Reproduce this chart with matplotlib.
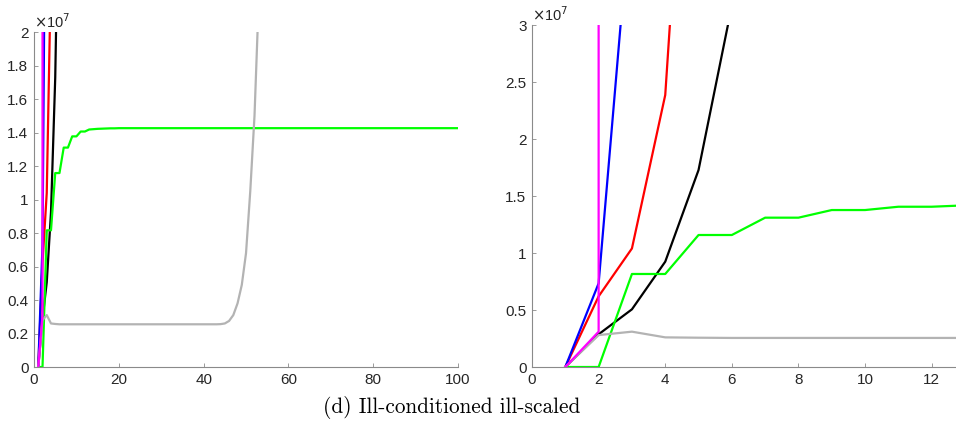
import matplotlib
matplotlib.use("Agg")
import matplotlib.pyplot as plt
from matplotlib.ticker import FuncFormatter
import numpy as np

# iteration counts (x) and objective values (y) for each solver
it_magenta = [1, 2, 2]
val_magenta = [0, 0.31e7, 1e9]

it_blue = [1, 2, 3]
val_blue = [0, 0.734e7, 4.17e7]

it_red = [1, 2, 3, 4, 5]
val_red = [0, 0.62e7, 1.04e7, 2.386e7, 6.8e7]

it_black = [1, 2, 3, 4, 5, 6]
val_black = [0, 0.287e7, 0.506e7, 0.924e7, 1.728e7, 3.17e7]

val_green = ([0, 0, 0.816e7, 0.816e7, 1.158e7, 1.158e7, 1.31e7, 1.31e7,
              1.377e7, 1.377e7, 1.406e7, 1.406e7, 1.418e7, 1.42e7, 1.422e7,
              1.423e7, 1.424e7, 1.425e7, 1.425e7, 1.426e7]
             + [1.426e7] * 80)
it_green = list(range(1, len(val_green) + 1))

val_gray = ([0, 0.28e7, 0.31e7, 0.26e7, 0.257e7]
            + [0.255e7] * 38
            + [0.256e7, 0.26e7, 0.275e7, 0.31e7, 0.38e7, 0.49e7, 0.68e7,
               1.05e7, 1.5e7, 2.2e7])
it_gray = list(range(1, len(val_gray) + 1))

left_xticks = [0, 20, 40, 60, 80, 100]
left_yticks = [0, 0.2e7, 0.4e7, 0.6e7, 0.8e7, 1e7, 1.2e7, 1.4e7, 1.6e7, 1.8e7, 2e7]
right_xticks = [0, 2, 4, 6, 8, 10, 12]
right_yticks = [0, 0.5e7, 1e7, 1.5e7, 2e7, 2.5e7, 3e7]

plt.rcParams['font.family'] = ['Liberation Sans', 'DejaVu Sans']

series = [
    (it_black, val_black, 'black'),
    (it_red, val_red, '#ff0000'),
    (it_blue, val_blue, '#0000ff'),
    (it_green, val_green, '#00ff00'),
    (it_gray, val_gray, '#b3b3b3'),
    (it_magenta, val_magenta, '#ff00ff'),
]

fig = plt.figure(figsize=(9.56, 4.30), dpi=100)
ax1 = fig.add_axes([0.0356, 0.1465, 0.4435, 0.779])
ax2 = fig.add_axes([0.5565, 0.1465, 0.4435, 0.7953])

fmt = FuncFormatter(lambda v, p: '%g' % (v / 1e7))

def style(ax, xlim, ylim, xt, yt):
    for x, y, c in series:
        ax.plot(x, y, color=c, linewidth=1.6)
    ax.set_xlim(*xlim)
    ax.set_ylim(*ylim)
    ax.set_xticks(xt)
    ax.set_yticks(yt)
    ax.yaxis.set_major_formatter(fmt)
    for s in ['top', 'right']:
        ax.spines[s].set_visible(False)
    for s in ['left', 'bottom']:
        ax.spines[s].set_color('#8a8a8a')
        ax.spines[s].set_linewidth(0.8)
    ax.tick_params(direction='in', length=3, width=0.6, color='#8a8a8a',
                   labelsize=11, labelcolor='#262626', pad=4)
    ax.text(0, 1.002, r'$\times$10$^{7}$', transform=ax.transAxes,
            ha='left', va='bottom', fontsize=10.5, color='#262626')

style(ax1, (0, 100), (0, 2e7), left_xticks, left_yticks)
style(ax2, (0, 12.73), (0, 3e7), right_xticks, right_yticks)

fig.text(0.472, 0.052, '(d) Ill-conditioned ill-scaled', family='cmr10',
         fontsize=15.3, ha='center', va='center')

fig.savefig('out.png', dpi=100)
